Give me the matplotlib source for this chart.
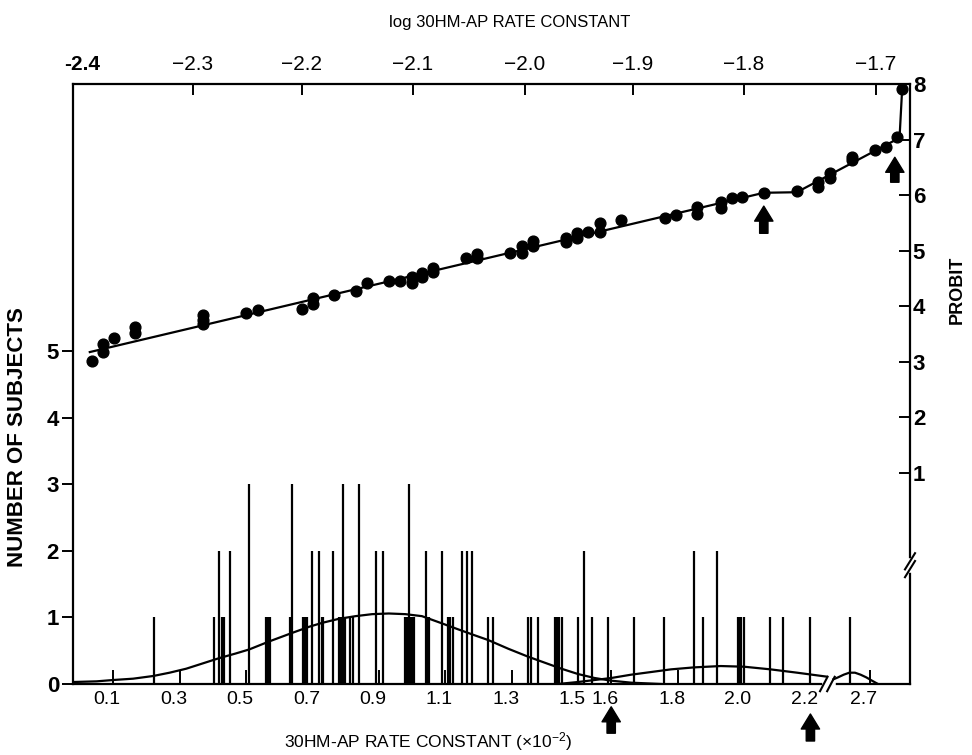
import numpy as np
import matplotlib
matplotlib.use('Agg')
import matplotlib.pyplot as plt
import matplotlib.transforms as mtransforms

plt.rcParams['font.family'] = ['Liberation Sans Narrow', 'Liberation Sans', 'DejaVu Sans']
plt.rcParams['mathtext.default'] = 'regular'

# histogram of rate constants (x10^-2) and number of subjects
rate_pos = [0.224, 0.404, 0.420, 0.429, 0.435, 0.452, 0.510, 0.560, 0.567, 0.572,
            0.633, 0.639, 0.671, 0.678, 0.683, 0.700, 0.721, 0.728, 0.733, 0.763,
            0.781, 0.786, 0.792, 0.798, 0.813, 0.823, 0.841, 0.892, 0.912, 0.979,
            0.984, 0.991, 0.996, 1.001, 1.006, 1.042, 1.047, 1.052, 1.091, 1.107,
            1.114, 1.123, 1.150, 1.167, 1.180, 1.228, 1.243, 1.350, 1.357, 1.381,
            1.431, 1.438, 1.444, 1.451, 1.501, 1.519, 1.541, 1.589, 1.670, 1.760,
            1.849, 1.877, 1.920, 1.981, 1.986, 1.991, 2.000, 2.078, 2.118, 2.199,
            2.487]
subjects = [1, 1, 2, 1, 1, 2, 3, 1, 1, 1,
            1, 3, 1, 1, 1, 2, 2, 1, 1, 2,
            1, 1, 3, 1, 1, 1, 3, 2, 2, 1,
            1, 3, 1, 1, 1, 2, 1, 1, 2, 1,
            1, 1, 2, 2, 2, 1, 1, 1, 1, 1,
            1, 1, 1, 1, 1, 2, 1, 1, 1, 1,
            2, 1, 2, 1, 1, 1, 1, 1, 1, 1,
            1]

# fitted distributions
curve1_x = [-0.02, 0.05, 0.10, 0.16, 0.22, 0.27, 0.32, 0.37, 0.42, 0.47, 0.51, 0.57,
            0.64, 0.69, 0.73, 0.78, 0.83, 0.88, 0.93, 0.98, 1.03, 1.08, 1.14, 1.19,
            1.23, 1.29, 1.35, 1.40, 1.45, 1.50, 1.55, 1.60, 1.66, 1.75]
curve1_y = [0.03, 0.04, 0.06, 0.08, 0.12, 0.17, 0.23, 0.31, 0.39, 0.46, 0.52, 0.64,
            0.77, 0.86, 0.92, 0.98, 1.02, 1.05, 1.06, 1.05, 1.02, 0.93, 0.82, 0.73,
            0.66, 0.53, 0.41, 0.32, 0.23, 0.15, 0.09, 0.05, 0.02, 0.0]
curve2_x = [1.44, 1.50, 1.55, 1.60, 1.66, 1.72, 1.78, 1.85, 1.93, 2.00, 2.08, 2.16, 2.25]
curve2_y = [0.0, 0.03, 0.06, 0.09, 0.14, 0.18, 0.22, 0.25, 0.27, 0.26, 0.22, 0.17, 0.11]
curve3_x = [2.31, 2.36, 2.42, 2.48, 2.54, 2.60, 2.66, 2.72, 2.78]
curve3_y = [0.07, 0.10, 0.14, 0.17, 0.17, 0.14, 0.10, 0.05, 0.0]

# probit plot
log_k = [-2.384, -2.375, -2.375, -2.366, -2.348, -2.348, -2.291, -2.291, -2.291, -2.251,
         -2.240, -2.200, -2.190, -2.190, -2.171, -2.151, -2.141, -2.122, -2.112, -2.101,
         -2.101, -2.092, -2.092, -2.082, -2.082, -2.053, -2.043, -2.043, -2.013, -2.003,
         -2.003, -1.993, -1.993, -1.962, -1.962, -1.952, -1.952, -1.942, -1.931, -1.931,
         -1.911, -1.871, -1.861, -1.842, -1.842, -1.821, -1.821, -1.811, -1.802, -1.785,
         -1.760, -1.744, -1.744, -1.735, -1.735, -1.718, -1.718, -1.701, -1.692, -1.684,
         -1.680]
probit = [3.01, 3.32, 3.18, 3.43, 3.63, 3.52, 3.84, 3.75, 3.68, 3.87,
          3.93, 3.95, 4.14, 4.04, 4.20, 4.27, 4.42, 4.45, 4.45, 4.53,
          4.42, 4.59, 4.53, 4.68, 4.62, 4.86, 4.94, 4.86, 4.95, 5.08,
          4.95, 5.18, 5.08, 5.22, 5.16, 5.31, 5.22, 5.34, 5.49, 5.34,
          5.55, 5.59, 5.64, 5.79, 5.66, 5.88, 5.76, 5.94, 5.97, 6.04,
          6.07, 6.24, 6.15, 6.39, 6.30, 6.69, 6.63, 6.81, 6.87, 7.04,
          7.91]
fit_log = [-2.386, -1.785, -1.760, -1.682, -1.680]
fit_probit = [3.17, 6.04, 6.05, 7.03, 7.91]

bottom_ticks = [0.1, 0.3, 0.5, 0.7, 0.9, 1.1, 1.3, 1.5, 1.6, 1.8, 2.0, 2.2, 2.7]
bottom_labels = ['0.1', '0.3', '0.5', '0.7', '0.9', '1.1', '1.3', '1.5', '1.6',
                 '1.8', '2.0', '2.2', '2.7']
top_ticks = [-2.4, -2.3, -2.2, -2.1, -2.0, -1.9, -1.8, -1.7]
top_labels = ['-2.4', '\u22122.3', '\u22122.2', '\u22122.1', '\u22122.0',
              '\u22121.9', '\u22121.8', '\u22121.7']


def piecewise(xs, ys):
    xs = np.asarray(xs, float)
    ys = np.asarray(ys, float)

    def f(v):
        v = np.asarray(v, float)
        out = np.interp(v, xs, ys)
        lo_s = (ys[1] - ys[0]) / (xs[1] - xs[0])
        hi_s = (ys[-1] - ys[-2]) / (xs[-1] - xs[-2])
        out = np.where(v < xs[0], ys[0] + (v - xs[0]) * lo_s, out)
        out = np.where(v > xs[-1], ys[-1] + (v - xs[-1]) * hi_s, out)
        return out
    return f


# broken rate axis (compressed after 2.25) and hand-spaced log axis
bot_v = [-0.021, 2.253, 2.7, 3.1]
bot_p = [0, 755, 797, 837]
top_v = [-2.4, -2.3, -2.2, -2.1, -2.0, -1.9, -1.8, -1.7, -1.674]
top_p = [0, 120, 229, 340, 452, 560, 671, 803, 837]

fig = plt.figure(figsize=(9.72, 7.55), dpi=100)
rect = [73 / 972, 1 - 684 / 755, 837 / 972, 600 / 755]
ax = fig.add_axes(rect)
axp = fig.add_axes(rect)
axp.patch.set_visible(False)

ax.set_xscale('function', functions=(piecewise(bot_v, bot_p), piecewise(bot_p, bot_v)))
axp.set_xscale('function', functions=(piecewise(top_v, top_p), piecewise(top_p, top_v)))

# histogram bars + distributions
ax.vlines(rate_pos, 0, subjects, color='k', lw=1.6)
ax.plot(curve1_x, curve1_y, color='k', lw=1.6)
ax.plot(curve2_x, curve2_y, color='k', lw=1.6)
ax.plot(curve3_x, curve3_y, color='k', lw=1.6)
ax.set_xlim(-0.021, 3.1)
ax.set_ylim(0, 9.02)
ax.set_yticks([0, 1, 2, 3, 4, 5])
ax.set_xticks(bottom_ticks)
ax.set_xticklabels(bottom_labels)
ax.minorticks_off()
ax.tick_params(axis='x', direction='in', length=10, width=1.4, labelsize=14, pad=5)
ax.tick_params(axis='y', direction='out', length=8, width=1.4, labelsize=16, pad=2)
for t in ax.get_yticklabels():
    t.set_fontweight('bold')
shift = mtransforms.ScaledTranslation(-6 / 100, 0, fig.dpi_scale_trans)
for t in ax.get_xticklabels():
    t.set_transform(t.get_transform() + shift)
for s in ['top', 'right']:
    ax.spines[s].set_visible(False)
for s in ['left', 'bottom']:
    ax.spines[s].set_linewidth(1.6)

# probit plot
axp.plot(fit_log, fit_probit, color='k', lw=1.6)
axp.scatter(log_k, probit, s=60, color='k', zorder=3)
axp.set_xlim(-2.4, -1.674)
axp.set_ylim(8 - 600 / 55.5, 8)
axp.xaxis.tick_top()
axp.yaxis.tick_right()
axp.set_xticks(top_ticks)
axp.set_xticklabels(top_labels)
axp.set_yticks([1, 2, 3, 4, 5, 6, 7, 8])
axp.minorticks_off()
axp.tick_params(axis='x', direction='in', length=8, width=1.4, labelsize=15, pad=7)
axp.tick_params(axis='y', direction='in', length=8, width=1.4, labelsize=16, pad=2)
for t in axp.get_yticklabels():
    t.set_fontweight('bold')
first = axp.get_xticklabels()[0]
first.set_fontweight('bold')
first.set_transform(first.get_transform()
                    + mtransforms.ScaledTranslation(9 / 100, 0, fig.dpi_scale_trans))
for s in ['left', 'bottom']:
    axp.spines[s].set_visible(False)
for s in ['top', 'right']:
    axp.spines[s].set_linewidth(1.6)

# arrows
arrow = dict(arrowstyle='simple,head_length=0.9,head_width=1.1,tail_width=0.5',
             color='k', shrinkA=0, shrinkB=0, mutation_scale=12)
axp.annotate('', xy=(-1.785, 5.80), xytext=(-1.785, 5.31), arrowprops=arrow)
axp.annotate('', xy=(-1.6856, 6.68), xytext=(-1.6856, 6.23), arrowprops=arrow)
ax.annotate('', xy=(1.6, -0.038), xytext=(1.6, -0.082), xycoords=('data', 'axes fraction'),
            textcoords=('data', 'axes fraction'), arrowprops=arrow, annotation_clip=False)
ax.annotate('', xy=(2.2, -0.050), xytext=(2.2, -0.095), xycoords=('data', 'axes fraction'),
            textcoords=('data', 'axes fraction'), arrowprops=arrow, annotation_clip=False)

# axis break marks
ax.plot([0.899, 0.908], [0, 0], transform=ax.transAxes, color='w', lw=4,
        clip_on=False, zorder=5)
for dx in (0.0, 0.0085):
    ax.plot([0.8925 + dx, 0.9015 + dx], [-0.012, 0.012], transform=ax.transAxes,
            color='k', lw=1.5, clip_on=False, zorder=6)
axp.plot([1, 1], [0.19, 0.205], transform=axp.transAxes, color='w', lw=4,
         clip_on=False, zorder=5)
for dy in (0.0, 0.013):
    axp.plot([0.994, 1.006], [0.178 + dy, 0.205 + dy], transform=axp.transAxes,
             color='k', lw=1.5, clip_on=False, zorder=6)

# titles
fig.text(510 / 972, 1 - 22 / 755, 'log 30HM-AP RATE CONSTANT', ha='center', va='center',
         fontsize=12)
fig.text(428 / 972, 1 - 742 / 755, r'30HM-AP RATE CONSTANT ($\times$10$^{-2}$)',
         ha='center', va='center', fontsize=12.5)
fig.text(18 / 972, 1 - 437 / 755, 'NUMBER OF SUBJECTS', rotation=90, ha='center',
         va='center', fontsize=16, fontweight='bold')
fig.text(957 / 972, 1 - 290 / 755, 'PROBIT', rotation=90, ha='center', va='center',
         fontsize=13, fontweight='bold')

fig.savefig('out.png', dpi=100)
